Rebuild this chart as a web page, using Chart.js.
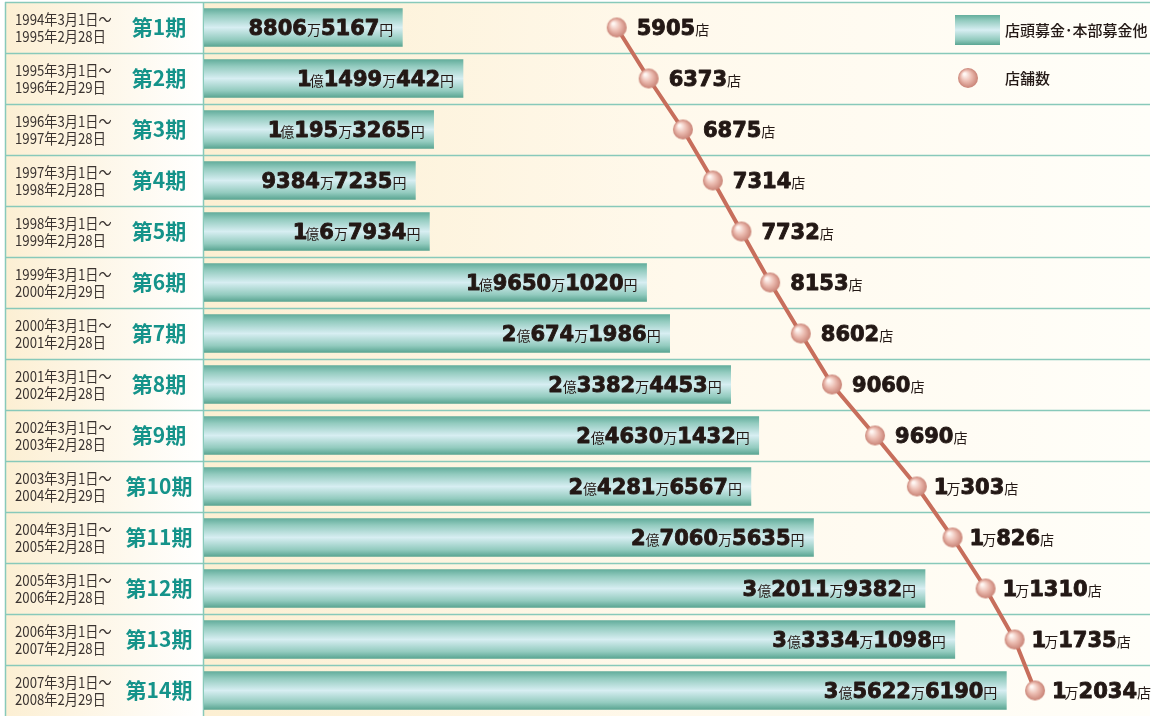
<!DOCTYPE html>
<html lang="ja">
<head>
<meta charset="utf-8">
<title>店頭募金・本部募金他と店舗数の推移</title>
<script src="https://cdn.jsdelivr.net/npm/chart.js@4.4.1/dist/chart.umd.min.js"></script>
<style>
  html, body { margin: 0; padding: 0; background: #fff; }
  canvas { display: block; }
</style>
</head>
<body>
<canvas id="chart" width="1158" height="716"></canvas>
<script>
// 期ごとのデータ
var periods = ["第1期", "第2期", "第3期", "第4期", "第5期", "第6期", "第7期",
  "第8期", "第9期", "第10期", "第11期", "第12期", "第13期", "第14期"];
var startDates = ["1994年3月1日～", "1995年3月1日～", "1996年3月1日～", "1997年3月1日～",
  "1998年3月1日～", "1999年3月1日～", "2000年3月1日～", "2001年3月1日～", "2002年3月1日～",
  "2003年3月1日～", "2004年3月1日～", "2005年3月1日～", "2006年3月1日～", "2007年3月1日～"];
var endDates = ["1995年2月28日", "1996年2月29日", "1997年2月28日", "1998年2月28日",
  "1999年2月28日", "2000年2月29日", "2001年2月28日", "2002年2月28日", "2003年2月28日",
  "2004年2月29日", "2005年2月28日", "2006年2月28日", "2007年2月28日", "2008年2月29日"];
// 店頭募金・本部募金他（円）
var donations = [88065167, 114990442, 101953265, 93847235, 100067934, 196501020, 206741986,
  233824453, 246301432, 242816567, 270605635, 320119382, 333341098, 356226190];
// 店舗数
var stores = [5905, 6373, 6875, 7314, 7732, 8153, 8602, 9060, 9690, 10303, 10826, 11310, 11735, 12034];

var BIG = 'bold 21px "DejaVu Sans"';
var SMALL = '14px "Noto Sans CJK JP"';
var TEXT = "#231815";
var TEAL = "#15938a";
var RULE = "#88c9ba";

function yenParts(v) {
  var oku = Math.floor(v / 1e8);
  var man = Math.floor((v % 1e8) / 1e4);
  var rest = v % 1e4;
  var p = [];
  if (oku) { p.push([String(oku), true]); p.push(["億", false]); }
  if (man) { p.push([String(man), true]); p.push(["万", false]); }
  p.push([String(rest), true]);
  p.push(["円", false]);
  return p;
}

function storeParts(v) {
  if (v >= 10000) {
    return [[String(Math.floor(v / 10000)), true], ["万", false], [String(v % 10000), true], ["店", false]];
  }
  return [[String(v), true], ["店", false]];
}

// 数字は太字・大、単位は小さく
function drawParts(ctx, parts, x, y, align) {
  var total = 0, widths = [], shifts = [];
  parts.forEach(function (p) {
    ctx.font = p[1] ? BIG : SMALL;
    var w = ctx.measureText(p[0]).width;
    var s = 0;
    if (p[0] === "1") { s = 3; w -= 5; }   // 「1」は詰める
    widths.push(w);
    shifts.push(s);
    total += w;
  });
  var cx = align === "right" ? x - total : x;
  ctx.textAlign = "left";
  ctx.textBaseline = "alphabetic";
  ctx.fillStyle = TEXT;
  ctx.strokeStyle = TEXT;
  ctx.lineWidth = 0.9;
  ctx.lineJoin = "round";
  parts.forEach(function (p, i) {
    ctx.font = p[1] ? BIG : SMALL;
    var tx = cx - shifts[i];
    ctx.fillText(p[0], tx, y + 7.5);
    if (p[1]) ctx.strokeText(p[0], tx, y + 7.5);
    cx += widths[i];
  });
}

function barGradient(ctx, top, bottom) {
  var g = ctx.createLinearGradient(0, top, 0, bottom);
  g.addColorStop(0, "#63ad9c");
  g.addColorStop(0.18, "#93cbbf");
  g.addColorStop(0.5, "#d7eef2");
  g.addColorStop(0.82, "#93cbbf");
  g.addColorStop(1, "#5aa592");
  return g;
}

function makeDot(r) {
  var c = document.createElement("canvas");
  var s = r * 2 + 2;
  c.width = s; c.height = s;
  var g = c.getContext("2d");
  var m = s / 2;
  var grad = g.createRadialGradient(m - r * 0.35, m - r * 0.4, r * 0.1, m, m, r);
  grad.addColorStop(0, "#fff7f3");
  grad.addColorStop(0.5, "#ebbbb0");
  grad.addColorStop(1, "#c98376");
  g.fillStyle = grad;
  g.beginPath();
  g.arc(m, m, r, 0, Math.PI * 2);
  g.fill();
  return c;
}
var dot = makeDot(10);

// 背景・罫線・左の期ラベル
var backdrop = {
  id: "backdrop",
  beforeDatasetsDraw: function (chart) {
    var ctx = chart.ctx, a = chart.chartArea;
    var rowH = (a.bottom - a.top) / periods.length;
    ctx.save();
    var gl = ctx.createLinearGradient(5, 0, 203, 0);
    gl.addColorStop(0, "#fcefd3");
    gl.addColorStop(1, "#ffffff");
    ctx.fillStyle = gl;
    ctx.fillRect(5, a.top, 198, a.bottom - a.top);
    var gr = ctx.createLinearGradient(a.left, 0, a.right, 0);
    gr.addColorStop(0, "#fcefd2");
    gr.addColorStop(0.5, "#fff9ec");
    gr.addColorStop(1, "#fffef9");
    ctx.fillStyle = gr;
    ctx.fillRect(a.left, a.top, a.right - a.left, a.bottom - a.top);

    ctx.strokeStyle = RULE;
    ctx.lineWidth = 1.5;
    for (var i = 0; i < periods.length; i++) {
      var yy = Math.round(a.top + i * rowH) + 0.5;
      ctx.beginPath();
      ctx.moveTo(5, yy);
      ctx.lineTo(a.right, yy);
      ctx.stroke();
    }
    ctx.beginPath();
    ctx.moveTo(5.5, a.top); ctx.lineTo(5.5, a.bottom);
    ctx.moveTo(203.5, a.top); ctx.lineTo(203.5, a.bottom);
    ctx.stroke();

    var ys = chart.scales.y;
    periods.forEach(function (p, i) {
      var cy = ys.getPixelForValue(i);
      ctx.save();
      ctx.translate(15, 0);
      ctx.scale(0.88, 1);
      ctx.fillStyle = "#3a3330";
      ctx.font = '15px "Noto Sans CJK JP"';
      ctx.textAlign = "left";
      ctx.textBaseline = "middle";
      ctx.fillText(startDates[i], 0, cy - 8.5);
      ctx.fillText(endDates[i], 0, cy + 8.5);
      ctx.restore();
      ctx.fillStyle = TEAL;
      ctx.font = 'bold 21px "Noto Sans CJK JP"';
      ctx.textAlign = "center";
      ctx.textBaseline = "middle";
      ctx.fillText(p, 159, cy);
    });
    ctx.restore();
  },
  afterDraw: function (chart) {
    var ctx = chart.ctx;
    var ys = chart.scales.y, xs = chart.scales.x, x2 = chart.scales.x2;
    ctx.save();
    donations.forEach(function (v, i) {
      drawParts(ctx, yenParts(v), xs.getPixelForValue(v) - 9, ys.getPixelForValue(i), "right");
    });
    stores.forEach(function (v, i) {
      drawParts(ctx, storeParts(v), x2.getPixelForValue(v) + 20, ys.getPixelForValue(i), "left");
    });

    // 凡例
    ctx.fillStyle = barGradient(ctx, 15, 45);
    ctx.fillRect(955, 15, 45, 30);
    ctx.drawImage(dot, 968 - dot.width / 2, 78 - dot.height / 2);
    ctx.fillStyle = TEXT;
    ctx.font = '500 15px "Noto Sans CJK JP"';
    ctx.textAlign = "left";
    ctx.textBaseline = "middle";
    ctx.fillText("店頭募金･本部募金他", 1005, 30);
    ctx.fillText("店舗数", 1005, 78);
    ctx.restore();
  }
};

new Chart(document.getElementById("chart"), {
  data: {
    labels: periods,
    datasets: [{
      type: "line",
      label: "店舗数",
      indexAxis: "y",
      xAxisID: "x2",
      yAxisID: "y",
      data: stores,
      borderColor: "#c76e5c",
      borderWidth: 4,
      pointStyle: dot,
      pointRadius: 10,
      tension: 0,
      clip: false,
      order: 0
    }, {
      type: "bar",
      label: "店頭募金･本部募金他",
      indexAxis: "y",
      xAxisID: "x",
      yAxisID: "y",
      data: donations,
      barThickness: 38,
      borderWidth: 0,
      order: 1,
      backgroundColor: function (c) {
        var chart = c.chart;
        if (!chart.chartArea || c.dataIndex === undefined) return "#9fd0c6";
        var cy = chart.scales.y.getPixelForValue(c.dataIndex);
        return barGradient(chart.ctx, cy - 19, cy + 19);
      }
    }]
  },
  options: {
    responsive: false,
    animation: false,
    indexAxis: "y",
    layout: { autoPadding: false, padding: { left: 204, right: 8, top: 2, bottom: 0 } },
    plugins: {
      legend: { display: false },
      tooltip: { enabled: false }
    },
    scales: {
      x: { type: "linear", display: false, min: 0, max: 420000000 },
      x2: { type: "linear", display: false, min: -142, max: 13719 },
      y: { type: "category", display: false, offset: true }
    }
  },
  plugins: [backdrop]
});
</script>
</body>
</html>
